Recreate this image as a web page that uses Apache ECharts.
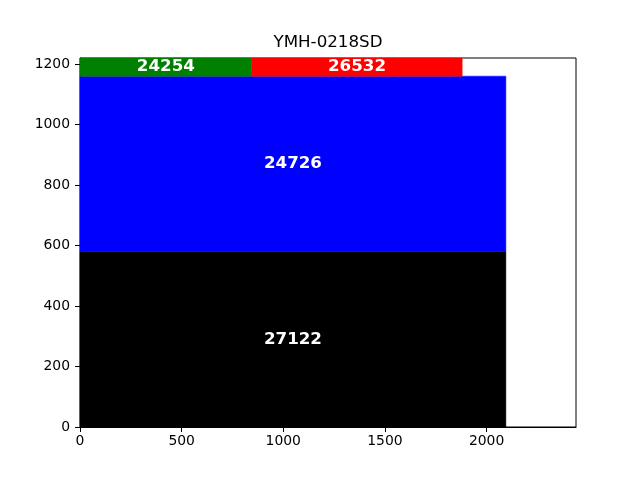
<!DOCTYPE html>
<html>
<head>
<meta charset="utf-8">
<script src="https://cdn.jsdelivr.net/npm/echarts@6/dist/echarts.min.js"></script>
<style>html,body{margin:0;padding:0;background:#fff;}#c{width:640px;height:480px;}</style>
</head>
<body>
<div id="c"></div>
<script>
var titleText = 'YMH-0218SD';
var sheetWidth = 2440;
var sheetHeight = 1220;
var pieceX = [0, 0, 0, 845];
var pieceY = [0, 580, 1160, 1160];
var pieceW = [2095, 2095, 845, 1035];
var pieceH = [580, 580, 60, 60];
var pieceLabels = ['27122', '24726', '24254', '26532'];
var pieceColors = ['#000000', '#0000ff', '#008000', '#ff0000'];

var data = pieceX.map(function (x, i) {
  return [x, pieceY[i], pieceW[i], pieceH[i], pieceLabels[i], i];
});

function plain(v) { return String(v); }

var chart = echarts.init(document.getElementById('c'), null, {renderer: 'canvas'});
var font = 'DejaVu Sans';
chart.setOption({
  animation: false,
  backgroundColor: '#fff',
  graphic: [{
    type: 'text', x: 328, y: 43,
    style: {text: titleText, font: '16.7px "DejaVu Sans"', fill: '#000', align: 'center', verticalAlign: 'middle'}
  }],
  grid: {left: 80, right: 64, top: 58, bottom: 53, show: true, borderColor: '#000', borderWidth: 1, backgroundColor: 'transparent', containLabel: false},
  xAxis: {
    type: 'value', min: 0, max: sheetWidth, interval: 500,
    axisLine: {show: true, onZero: false, lineStyle: {color: '#000', width: 1}},
    axisTick: {show: true, length: 5, lineStyle: {color: '#000'}},
    axisLabel: {show: true, color: '#000', fontFamily: font, fontSize: 13.9, margin: 7, showMaxLabel: false, formatter: plain},
    splitLine: {show: false}
  },
  yAxis: {
    type: 'value', min: 0, max: sheetHeight, interval: 200,
    axisLine: {show: true, onZero: false, lineStyle: {color: '#000', width: 1}},
    axisTick: {show: true, length: 5, lineStyle: {color: '#000'}},
    axisLabel: {show: true, color: '#000', fontFamily: font, fontSize: 13.9, margin: 10, showMaxLabel: false, formatter: plain},
    splitLine: {show: false}
  },
  series: [{
    type: 'custom',
    data: data,
    encode: {x: [0, 2], y: [1, 3]},
    renderItem: function (params, api) {
      var x0 = api.value(0), y0 = api.value(1), w = api.value(2), h = api.value(3);
      var idx = api.value(5);
      var p1 = api.coord([x0, y0 + h]);
      var p2 = api.coord([x0 + w, y0]);
      return {
        type: 'group',
        children: [{
          type: 'rect',
          shape: {x: p1[0], y: p1[1], width: p2[0] - p1[0], height: p2[1] - p1[1]},
          style: {fill: pieceColors[idx], stroke: pieceColors[idx], lineWidth: 0.5}
        }, {
          type: 'text',
          x: (p1[0] + p2[0]) / 2, y: (p1[1] + p2[1]) / 2,
          style: {text: pieceLabels[idx], font: 'bold 16.7px "DejaVu Sans"', fill: '#fff', align: 'center', verticalAlign: 'middle'}
        }]
      };
    }
  }]
});
</script>
</body>
</html>
